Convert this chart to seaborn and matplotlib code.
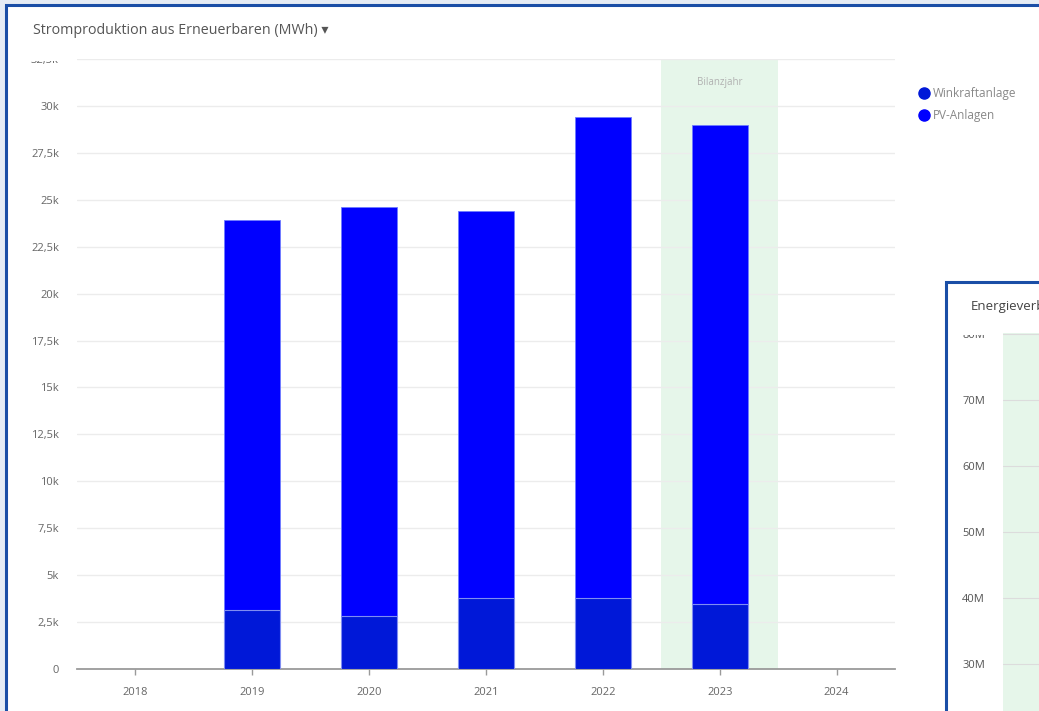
import numpy as np
import pandas as pd
import matplotlib
matplotlib.use("Agg")
import matplotlib.pyplot as plt
import seaborn as sns
from matplotlib.patches import Rectangle
from matplotlib.lines import Line2D
from matplotlib.ticker import MultipleLocator, FuncFormatter
from matplotlib.transforms import Bbox, TransformedBbox

# --- data ---
years = ["2018", "2019", "2020", "2021", "2022", "2023", "2024"]
wind_mwh = [np.nan, 3150, 2820, 3780, 3780, 3460, np.nan]      # Winkraftanlage
pv_mwh = [np.nan, 20780, 21800, 20620, 25630, 25530, np.nan]    # PV-Anlagen
bilanz_year = "2023"
series_names = ["Winkraftanlage", "PV-Anlagen"]
energy_ticks = [30e6, 40e6, 50e6, 60e6, 70e6, 80e6]

WIND_COLOR = "#0018d8"
PV_COLOR = "#0000ff"
BORDER = "#1a4ea6"
GREEN = "#e6f6ea"
TXT = "#666666"

df = pd.DataFrame({"year": years, "wind": wind_mwh, "pv": pv_mwh})
df["total"] = df["wind"] + df["pv"]

sns.set_theme(style="white")
plt.rcParams["font.family"] = ["Open Sans", "DejaVu Sans"]

W, H = 1039, 711
fig = plt.figure(figsize=(W / 100, H / 100), dpi=100)
fig.patch.set_facecolor("#e5ecf5")

# main panel card
fig.patches.append(Rectangle((6 / W, -0.05), 1.1, (H - 5) / H + 0.05, transform=fig.transFigure,
                             facecolor="white", edgecolor=BORDER, linewidth=2.2, zorder=-1))

ax = fig.add_axes([77 / W, 42 / H, (895 - 77) / W, (669 - 59) / H])
ax.set_facecolor("none")

ax.axvspan(years.index(bilanz_year) - 0.5, years.index(bilanz_year) + 0.5,
           color=GREEN, zorder=0, linewidth=0)

sns.barplot(data=df, x="year", y="total", order=years, color=PV_COLOR, width=0.48,
            saturation=1, edgecolor="#6f7cff", linewidth=0.6, ax=ax, zorder=2)
sns.barplot(data=df, x="year", y="wind", order=years, color=WIND_COLOR, width=0.48,
            saturation=1, edgecolor="#7f8df2", linewidth=0.8, ax=ax, zorder=3)

ax.set_xlim(-0.5, len(years) - 0.5)
ax.set_ylim(0, 32500)
ax.yaxis.set_major_locator(MultipleLocator(2500))
ax.yaxis.set_major_formatter(FuncFormatter(
    lambda v, p: "0" if v == 0 else f"{v / 1000:g}k".replace(".", ",")))
ax.grid(axis="y", color="#ececec", linewidth=1)
ax.set_axisbelow(True)
ax.set_xlabel("")
ax.set_ylabel("")
for s in ["top", "right", "left"]:
    ax.spines[s].set_visible(False)
ax.spines["bottom"].set_color("#9a9a9a")
ax.spines["bottom"].set_linewidth(1.3)
ax.tick_params(axis="y", length=0, pad=13, labelsize=8, labelcolor=TXT)
ax.tick_params(axis="x", length=4, width=1, color="#9a9a9a", pad=9, labelsize=8, labelcolor=TXT, bottom=True)

ax.text(years.index(bilanz_year), 31250, "Bilanzjahr", ha="center", va="center",
        fontsize=7, color="#b0b0b0")

fig.text(33 / W, 1 - 30 / H, "Stromproduktion aus Erneuerbaren (MWh) \u25BE", fontsize=10.3,
         color="#555555", va="center", ha="left", family=["Open Sans", "DejaVu Sans"])

# legend
handles = [Line2D([], [], marker="o", linestyle="none", markersize=8, color=c)
           for c in [WIND_COLOR, PV_COLOR]]
leg = fig.legend(handles, series_names, loc="upper left", bbox_to_anchor=(913 / W, 1 - 81 / H),
                 frameon=False, fontsize=8.5, handlelength=0.8, handletextpad=0.35,
                 labelspacing=0.75, borderpad=0)
for t in leg.get_texts():
    t.set_color("#888888")

# clip the top tick label like in the screenshot
clip_main = TransformedBbox(Bbox([[0, 0], [1, (H - 61) / H]]), fig.transFigure)
fig.canvas.draw()
for lab in ax.get_yticklabels():
    lab.set_clip_box(clip_main)
    lab.set_clip_on(True)

# second (overlapping) panel on the right
fig.patches.append(Rectangle((946 / W, -0.05), 0.2, (H - 282) / H + 0.05, transform=fig.transFigure,
                             facecolor="white", edgecolor=BORDER, linewidth=2.2, zorder=5))
fig.text(971 / W, 1 - 306 / H, "Energieverbrauch", fontsize=9.5, color="#444444",
         va="center", ha="left", zorder=6)
ax2 = fig.add_axes([1003 / W, 0, 60 / W, (H - 333) / H], zorder=7)
ax2.set_facecolor(GREEN)
ax2.set_ylim(22.8e6, 80.2e6)
ax2.set_yticks(energy_ticks)
ax2.set_yticklabels([f"{int(v / 1e6)}M" for v in energy_ticks])
ax2.set_xticks([])
ax2.grid(axis="y", color="#dcdcdc", linewidth=0.8)
for s in ax2.spines.values():
    s.set_visible(False)
ax2.tick_params(axis="y", length=0, pad=13, labelsize=8, labelcolor="#555555")
clip_side = TransformedBbox(Bbox([[0, 0], [1, (H - 335) / H]]), fig.transFigure)
fig.canvas.draw()
for lab in ax2.get_yticklabels():
    lab.set_clip_box(clip_side)
    lab.set_clip_on(True)

fig.savefig("out.png", dpi=100, facecolor=fig.get_facecolor())
